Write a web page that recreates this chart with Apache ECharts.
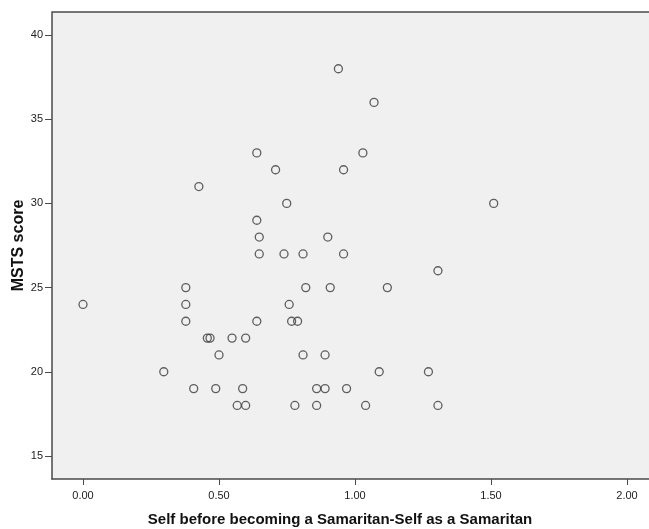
<!DOCTYPE html>
<html>
<head>
<meta charset="utf-8">
<script src="https://cdn.jsdelivr.net/npm/echarts@6/dist/echarts.min.js"></script>
<style>
html,body{margin:0;padding:0;background:#fff;}
#chart{width:649px;height:529px;}
</style>
</head>
<body>
<div id="chart"></div>
<script>
var selfDiff = [0.00,0.297,0.378,0.378,0.378,0.407,0.426,0.457,0.467,0.488,0.50,0.548,0.567,0.587,0.598,0.598,0.639,0.639,0.639,0.648,0.648,0.708,0.739,0.749,0.758,0.767,0.789,0.779,0.809,0.809,0.819,0.859,0.859,0.890,0.890,0.900,0.909,0.939,0.958,0.958,0.969,1.029,1.039,1.070,1.089,1.119,1.270,1.305,1.305,1.510];
var mstsScore = [24,20,25,24,23,19,31,22,22,19,21,22,18,19,22,18,33,29,23,28,27,32,27,30,24,23,23,18,27,21,25,19,18,21,19,28,25,38,32,27,19,33,18,36,20,25,20,26,18,30];
var xTicks = [0, 0.5, 1.0, 1.5, 2.0];
var yTicks = [15, 20, 25, 30, 35, 40];
var xTitle = 'Self before becoming a Samaritan-Self as a Samaritan';
var yTitle = 'MSTS score';

var points = selfDiff.map(function(v, i){ return [v, mstsScore[i]]; });
var axisColor = '#4a4a4a';
var chart = echarts.init(document.getElementById('chart'));
chart.setOption({
  animation: false,
  backgroundColor: '#ffffff',
  grid: {left: 52, right: -3, top: 12, bottom: 50, show: true, backgroundColor: '#f0f0f0', borderWidth: 0,
    containLabel: false, outerBoundsMode: 'none'},
  xAxis: {
    type: 'value', min: -0.114, max: 2.092,
    name: xTitle, nameLocation: 'middle', nameGap: 33,
    nameTextStyle: {fontFamily: 'Liberation Sans', fontWeight: 'bold', fontSize: 15, color: '#111', padding: [0, 24, 0, 0]},
    axisLine: {show: true, onZero: false, lineStyle: {color: axisColor, width: 1.5}},
    axisTick: {show: true, length: 6, customValues: xTicks, lineStyle: {color: axisColor, width: 1}},
    axisLabel: {customValues: xTicks, margin: 11, fontFamily: 'Liberation Sans', fontSize: 11, color: '#222',
      formatter: function(v){ return v.toFixed(2); }},
    splitLine: {show: false}
  },
  yAxis: {
    type: 'value', min: 13.63, max: 41.37,
    name: yTitle, nameLocation: 'middle', nameGap: 25, nameRotate: 90, nameMoveOverlap: false,
    nameTextStyle: {fontFamily: 'Liberation Sans', fontWeight: 'bold', fontSize: 16, color: '#111'},
    axisLine: {show: true, onZero: false, lineStyle: {color: axisColor, width: 1.5}},
    axisTick: {show: true, length: 7, customValues: yTicks, lineStyle: {color: axisColor, width: 1}},
    axisLabel: {customValues: yTicks, margin: 9, fontFamily: 'Liberation Sans', fontSize: 11, color: '#222'},
    splitLine: {show: false}
  },
  graphic: [{
    type: 'line', z: 10,
    shape: {x1: 52, y1: 12, x2: 649, y2: 12},
    style: {stroke: axisColor, lineWidth: 1.5}
  }],
  series: [{
    type: 'scatter',
    data: points,
    symbol: 'circle',
    symbolSize: 8,
    itemStyle: {color: 'rgba(0,0,0,0)', borderColor: '#3a3a3a', borderWidth: 1.3},
    clip: false
  }]
});
</script>
</body>
</html>
